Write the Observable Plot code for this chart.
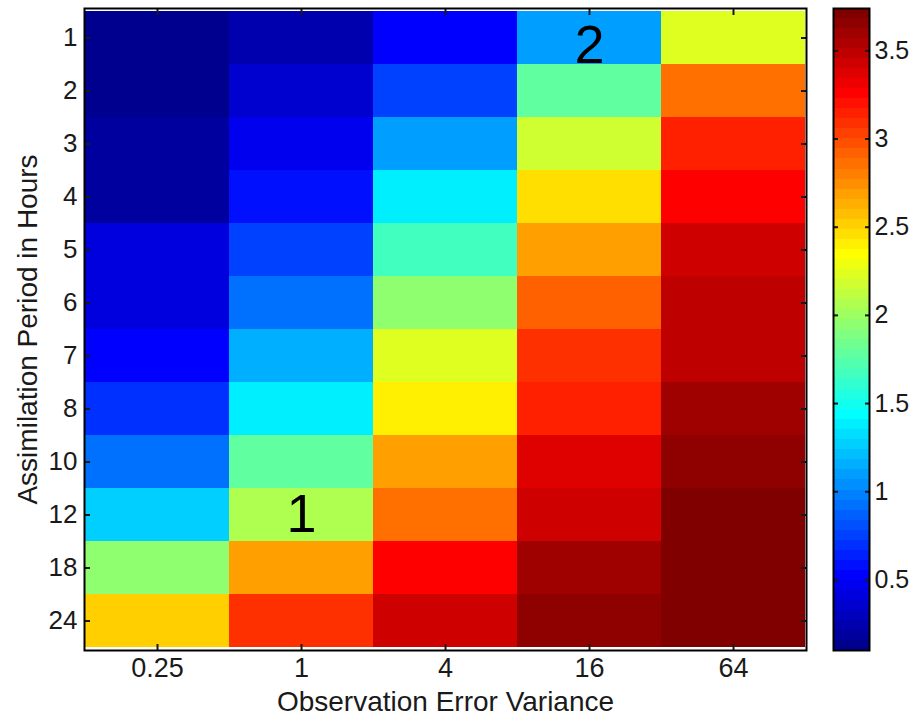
<!DOCTYPE html>
<html><head><meta charset="utf-8">
<script src="https://cdn.jsdelivr.net/npm/d3@7"></script>
<script src="https://cdn.jsdelivr.net/npm/@observablehq/plot@0.6"></script>
<style>
body{margin:0;background:#fff;}
#wrap{position:relative;width:916px;height:717px;}
#wrap svg{position:absolute;top:0;overflow:visible;}
</style></head><body><div id="wrap"></div>
<script>
// Categories
const variances = ["0.25", "1", "4", "16", "64"];
const periods = ["1", "2", "3", "4", "5", "6", "7", "8", "10", "12", "18", "24"];
// Values per observation error variance (rows = assimilation period)
const err025 = [0.10, 0.11, 0.16, 0.21, 0.39, 0.41, 0.50, 0.67, 0.93, 1.24, 1.97, 2.50];
const err1   = [0.24, 0.36, 0.49, 0.61, 0.78, 0.95, 1.16, 1.36, 1.75, 2.08, 2.71, 3.06];
const err4   = [0.50, 0.78, 1.07, 1.36, 1.69, 1.97, 2.21, 2.38, 2.71, 2.88, 3.23, 3.40];
const err16  = [1.12, 1.77, 2.15, 2.48, 2.71, 2.94, 3.06, 3.17, 3.35, 3.40, 3.57, 3.63];
const err64  = [2.26, 2.83, 3.12, 3.28, 3.40, 3.47, 3.51, 3.57, 3.63, 3.69, 3.74, 3.74];
const columns = [err025, err1, err4, err16, err64];
// Colour bar
const colorMin = 0.10, colorMax = 3.74;
const colorTicks = [0.5, 1, 1.5, 2, 2.5, 3, 3.5];
// Annotations
const annVar = ["16", "1"];
const annPer = ["1", "12"];
const annText = ["2", "1"];

const FONT = '"Liberation Sans", Arial, Helvetica, sans-serif';

function jetRaw(t) {
  const c = x => Math.max(0, Math.min(1, x));
  const r = c(1.5 - Math.abs(4 * t - 3));
  const g = c(1.5 - Math.abs(4 * t - 2));
  const b = c(1.5 - Math.abs(4 * t - 1));
  return d3.rgb(r * 255, g * 255, b * 255).formatHex();
}
function jet64(t) {
  const i = Math.max(0, Math.min(63, Math.floor(t * 64)));
  return jetRaw((i + 1) / 64);
}

const table = [];
periods.forEach((p, i) => variances.forEach((v, j) => table.push({variance: v, period: p, value: columns[j][i]})));
const annotations = annText.map((t, k) => ({variance: annVar[k], period: annPer[k], text: t}));

const colorScale = {type: "linear", domain: [colorMin, colorMax], interpolate: jet64};

const main = Plot.plot({
  width: 916, height: 717,
  marginLeft: 84, marginRight: 110, marginTop: 8, marginBottom: 67,
  style: {fontFamily: FONT, fontSize: "26px", color: "#1a1a1a", background: "transparent"},
  x: {domain: variances, padding: 0, label: null},
  y: {domain: periods, padding: 0, label: null},
  color: colorScale,
  marks: [
    Plot.cell(table, {x: "variance", y: "period", fill: "value", inset: 0, shapeRendering: "crispEdges"}),
    Plot.axisX({anchor: "bottom", tickSize: 0, tickPadding: 7, fontSize: 27, label: null}),
    Plot.axisY({anchor: "left", tickSize: 0, tickPadding: 7, fontSize: 26, label: null}),
    Plot.axisX({anchor: "bottom", tickSize: -6, tickFormat: () => "", label: null, strokeWidth: 2}),
    Plot.axisX({anchor: "top", tickSize: -6, tickFormat: () => "", label: null, strokeWidth: 2}),
    Plot.axisY({anchor: "left", tickSize: -6, tickFormat: () => "", label: null, strokeWidth: 2}),
    Plot.axisY({anchor: "right", tickSize: -6, tickFormat: () => "", label: null, strokeWidth: 2}),
    Plot.frame({stroke: "#000", strokeWidth: 2}),
    Plot.text(annotations.filter(d => d.text === "2"), {x: "variance", y: "period", text: "text", fontSize: 54, fill: "#000", dy: 8}),
    Plot.text(annotations.filter(d => d.text === "1"), {x: "variance", y: "period", text: "text", fontSize: 54, fill: "#000", dy: 0}),
    Plot.text(["Observation Error Variance"], {text: d => d, frameAnchor: "bottom", textAnchor: "middle", lineAnchor: "middle", dy: 52, fontSize: 28, fill: "#1a1a1a"}),
    Plot.text(["Assimilation Period in Hours"], {text: d => d, frameAnchor: "left", textAnchor: "middle", rotate: -90, dx: -56, fontSize: 28, fill: "#1a1a1a"})
  ]
});
main.style.left = "0px";

const bins = d3.range(64).map(i => ({
  y1: colorMin + i * (colorMax - colorMin) / 64,
  y2: colorMin + (i + 1) * (colorMax - colorMin) / 64
}));

const bar = Plot.plot({
  width: 91, height: 717,
  marginLeft: 8, marginRight: 47, marginTop: 8, marginBottom: 67,
  style: {fontFamily: FONT, fontSize: "25px", color: "#1a1a1a", background: "transparent"},
  x: {domain: [0, 1], axis: null},
  y: {domain: [colorMin, colorMax], label: null},
  color: colorScale,
  marks: [
    Plot.rect(bins, {x1: 0, x2: 1, y1: "y1", y2: "y2", fill: d => (d.y1 + d.y2) / 2, shapeRendering: "crispEdges"}),
    Plot.axisY(colorTicks, {anchor: "right", tickSize: 0, tickPadding: 5, fontSize: 25, label: null, tickFormat: d => String(d)}),
    Plot.axisY(colorTicks, {anchor: "right", tickSize: -5, tickFormat: () => "", label: null, strokeWidth: 2}),
    Plot.axisY(colorTicks, {anchor: "left", tickSize: -5, tickFormat: () => "", label: null, strokeWidth: 2}),
    Plot.frame({stroke: "#000", strokeWidth: 2})
  ]
});
bar.style.left = "825px";

const wrap = document.getElementById("wrap");
wrap.appendChild(main);
wrap.appendChild(bar);
</script></body></html>
